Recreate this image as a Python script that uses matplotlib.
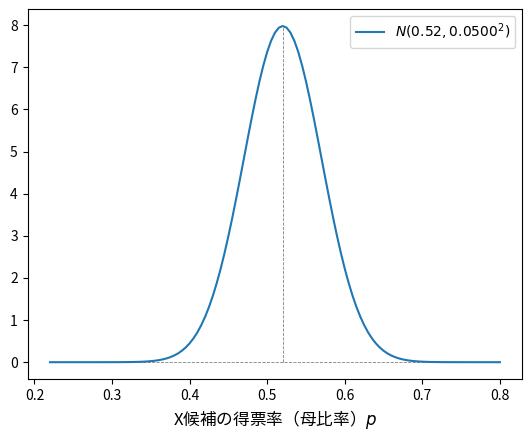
import matplotlib
matplotlib.use('Agg')
import matplotlib.pyplot as plt

plt.rcParams['font.family'] = ['Noto Sans CJK JP', 'DejaVu Sans']
plt.rcParams['mathtext.fontset'] = 'dejavusans'

# parameters shown in the legend
mean = 0.52
sd = 0.05
peak = 7.9788

# density values, x from 0.22 to 0.80 in steps of 0.005
x_values = [round(0.22 + 0.005 * i, 3) for i in range(117)]
y_values = [
    # 0.220 - 0.275
    0.0, 0.0, 0.0, 0.0, 0.0, 0.0, 0.0, 0.0, 0.0, 0.0, 0.0, 0.0,
    # 0.280 -
    0.0001, 0.0001, 0.0002, 0.0003, 0.0005, 0.0008, 0.0012, 0.0018,
    0.0027, 0.0040, 0.0058, 0.0085, 0.0122, 0.0175, 0.0246, 0.0345,
    0.0477, 0.0653, 0.0886, 0.1191, 0.1583, 0.2084, 0.2717, 0.3506,
    0.4479, 0.5666, 0.7095, 0.8797, 1.0798, 1.3123, 1.5790, 1.8810,
    2.2184, 2.5903, 2.9945, 3.4274, 3.8837, 4.3570, 4.8394, 5.3217,
    5.7938, 6.2450, 6.6645, 7.0413, 7.3654, 7.6278, 7.8209, 7.9390,
    # 0.520
    7.9788,
    # 0.525 -
    7.9390, 7.8209, 7.6278, 7.3654, 7.0413, 6.6645, 6.2450, 5.7938,
    5.3217, 4.8394, 4.3570, 3.8837, 3.4274, 2.9945, 2.5903, 2.2184,
    1.8810, 1.5790, 1.3123, 1.0798, 0.8797, 0.7095, 0.5666, 0.4479,
    0.3506, 0.2717, 0.2084, 0.1583, 0.1191, 0.0886, 0.0653, 0.0477,
    0.0345, 0.0246, 0.0175, 0.0122, 0.0085, 0.0058, 0.0040, 0.0027,
    0.0018, 0.0012, 0.0008, 0.0005, 0.0003, 0.0002, 0.0001, 0.0001,
    # 0.765 - 0.800
    0.0, 0.0, 0.0, 0.0, 0.0, 0.0, 0.0, 0.0,
]

fig = plt.figure(figsize=(5.32, 4.38), dpi=100)
ax = fig.add_axes([0.0517, 0.1347, 0.9303, 0.8443])

ax.vlines(mean, 0, peak, colors='gray', linestyles='--', linewidth=0.6)
ax.hlines(0, x_values[0], x_values[-1], colors='gray', linestyles='--', linewidth=0.6)
ax.plot(x_values, y_values, color='#1f77b4', linewidth=1.5,
        label=r'$N(%.2f, %.4f^2)$' % (mean, sd))

ax.set_xlabel('X候補の得票率（母比率）$p$', fontsize=12)
ax.legend(loc='upper right', fontsize=10)

fig.savefig('out.png', dpi=100)
